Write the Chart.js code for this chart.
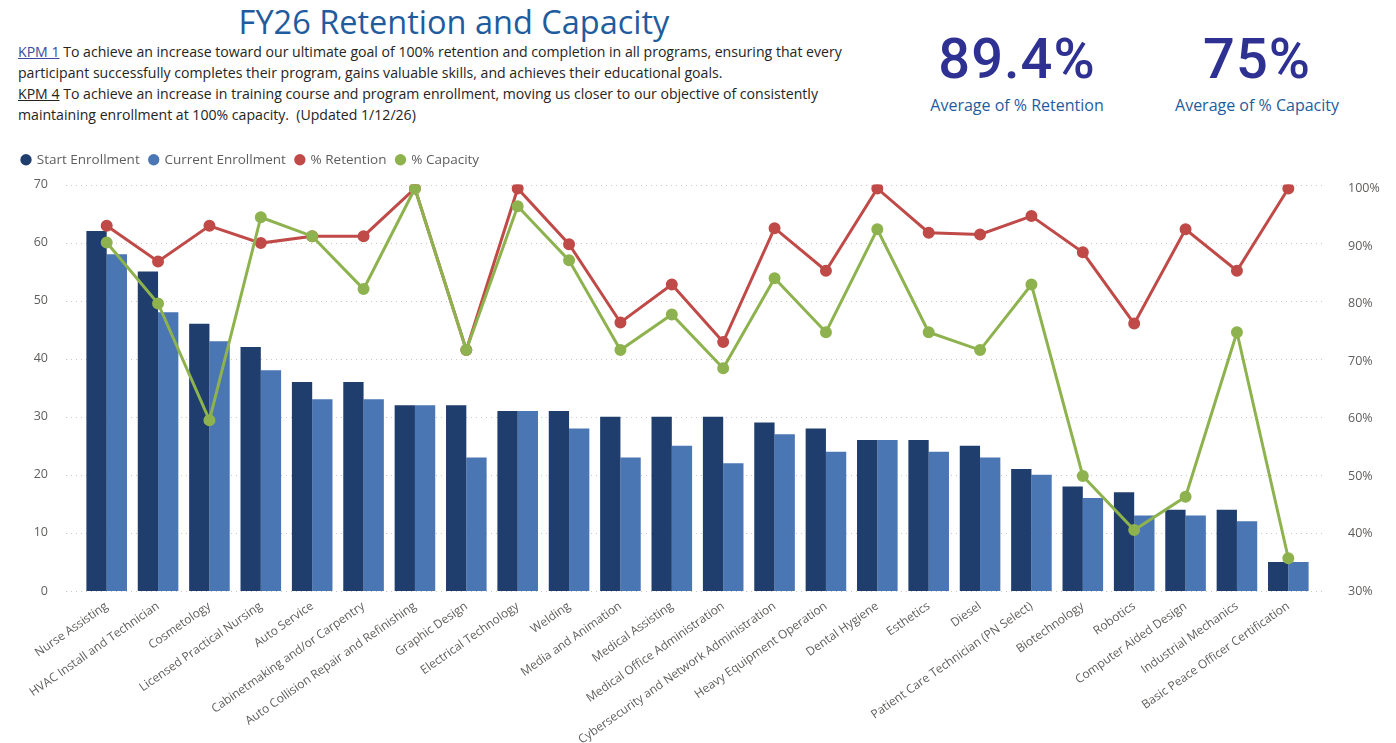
<!DOCTYPE html>
<html>
<head>
<meta charset="utf-8">
<script src="https://cdn.jsdelivr.net/npm/chart.js@4.4.1/dist/chart.umd.min.js"></script>
<style>
  html, body { margin: 0; padding: 0; background: #fff; overflow: hidden; }
  body { width: 1396px; height: 743px; position: relative; font-family: 'Open Sans', 'Noto Sans', sans-serif; }
  #title { position: absolute; left: 0; width: 908px; top: 0; text-align: center; font-size: 32.5px; color: #1f5c9e; line-height: 44px; }
  #kpm { position: absolute; left: 18px; top: 41px; font-size: 14.1px; line-height: 21px; color: #252423; white-space: nowrap; }
  #kpm .k1 { color: #3c4aa0; text-decoration: underline; }
  #kpm .k4 { text-decoration: underline; }
  .kpi { position: absolute; top: 25px; width: 240px; text-align: center; }
  .kpi .num { font-family: Roboto, sans-serif; font-weight: 500; font-size: 56px; line-height: 68px; color: #2e3192; letter-spacing: 1px; }
  .kpi .lbl { font-size: 16px; color: #1f5c9e; line-height: 20px; margin-top: 2px; }
  #wrap { position: absolute; left: 0; top: 140px; width: 1396px; height: 603px; }
</style>
</head>
<body>
<div id="title">FY26 Retention and Capacity</div>
<div id="kpm">
  <span class="k1">KPM 1</span> To achieve an increase toward our ultimate goal of 100% retention and completion in all programs, ensuring that every<br>
  participant successfully completes their program, gains valuable skills, and achieves their educational goals.<br>
  <span class="k4">KPM 4</span> To achieve an increase in training course and program enrollment, moving us closer to our objective of consistently<br>
  maintaining enrollment at 100% capacity.&nbsp; (Updated 1/12/26)
</div>
<div class="kpi" style="left:897px"><div class="num">89.4%</div><div class="lbl">Average of % Retention</div></div>
<div class="kpi" style="left:1137px"><div class="num">75%</div><div class="lbl">Average of % Capacity</div></div>
<div id="wrap"><canvas id="chart"></canvas></div>
<script>
// programas (eje X)
const programas = [
  'Nurse Assisting', 'HVAC Install and Technician', 'Cosmetology', 'Licensed Practical Nursing',
  'Auto Service', 'Cabinetmaking and/or Carpentry', 'Auto Collision Repair and Refinishing', 'Graphic Design',
  'Electrical Technology', 'Welding', 'Media and Animation', 'Medical Assisting',
  'Medical Office Administration', 'Cybersecurity and Network Administration', 'Heavy Equipment Operation', 'Dental Hygiene',
  'Esthetics', 'Diesel', 'Patient Care Technician (PN Select)', 'Biotechnology',
  'Robotics', 'Computer Aided Design', 'Industrial Mechanics', 'Basic Peace Officer Certification'
];

// inscripciones
const startEnrollment = [62, 55, 46, 42, 36, 36, 32, 32, 31, 31, 30, 30, 30, 29, 28, 26, 26, 25, 21, 18, 17, 14, 14, 5];
const currentEnrollment = [58, 48, 43, 38, 33, 33, 32, 23, 31, 28, 23, 25, 22, 27, 24, 26, 24, 23, 20, 16, 13, 13, 12, 5];

// porcentajes (eje derecho)
const retention = [0.935, 0.873, 0.935, 0.905, 0.917, 0.917, 1.0, 0.719, 1.0, 0.903, 0.767, 0.833,
                   0.733, 0.931, 0.857, 1.0, 0.923, 0.92, 0.952, 0.889, 0.765, 0.929, 0.857, 1.0];
const capacity = [0.906, 0.80, 0.597, 0.95, 0.917, 0.825, 1.0, 0.719, 0.969, 0.875, 0.719, 0.781,
                  0.6875, 0.844, 0.75, 0.929, 0.75, 0.719, 0.833, 0.50, 0.406, 0.464, 0.75, 0.357];

// ticks
const leftTicks = [0, 10, 20, 30, 40, 50, 60, 70];
const rightTicks = [0.3, 0.4, 0.5, 0.6, 0.7, 0.8, 0.9, 1.0];

const colores = {
  start: '#1f3e6d',
  current: '#4a76b4',
  retention: '#bf4a47',
  capacity: '#8db24e',
  texto: '#605e5c',
  grid: '#c8c8c8'
};

const fuente = "'Open Sans', 'Noto Sans', sans-serif";

// lineas de cuadricula punteadas, un poco mas anchas que el area
const gridPunteado = {
  id: 'gridPunteado',
  beforeDatasetsDraw(chart) {
    const { ctx, chartArea, scales } = chart;
    ctx.save();
    ctx.strokeStyle = colores.grid;
    ctx.lineWidth = 1;
    ctx.setLineDash([1, 4]);
    scales.y.ticks.forEach(t => {
      const y = Math.round(scales.y.getPixelForValue(t.value)) + 0.5;
      ctx.beginPath();
      ctx.moveTo(chartArea.left - 15, y);
      ctx.lineTo(chartArea.right + 10, y);
      ctx.stroke();
    });
    ctx.restore();
  }
};

// espacio extra debajo de la leyenda
const espacioLeyenda = {
  id: 'espacioLeyenda',
  beforeInit(chart) {
    const fitOriginal = chart.legend.fit;
    chart.legend.fit = function () {
      fitOriginal.bind(chart.legend)();
      this.height += 8;
    };
  }
};

const ctx = document.getElementById('chart').getContext('2d');
const chart = new Chart(ctx, {
  data: {
    labels: programas,
    datasets: [
      {
        type: 'bar', label: 'Start Enrollment', data: startEnrollment, yAxisID: 'y', order: 2,
        backgroundColor: colores.start, borderWidth: 0,
        categoryPercentage: 0.79, barPercentage: 1.0
      },
      {
        type: 'bar', label: 'Current Enrollment', data: currentEnrollment, yAxisID: 'y', order: 3,
        backgroundColor: colores.current, borderWidth: 0,
        categoryPercentage: 0.79, barPercentage: 1.0
      },
      {
        type: 'line', label: '% Retention', data: retention, yAxisID: 'y1', order: 1,
        borderColor: colores.retention, backgroundColor: colores.retention,
        borderWidth: 3, pointRadius: 4.5, pointHoverRadius: 5, tension: 0
      },
      {
        type: 'line', label: '% Capacity', data: capacity, yAxisID: 'y1', order: 0,
        borderColor: colores.capacity, backgroundColor: colores.capacity,
        borderWidth: 3, pointRadius: 4.5, pointHoverRadius: 5, tension: 0
      }
    ]
  },
  options: {
    responsive: true,
    maintainAspectRatio: false,
    animation: false,
    layout: { padding: { top: 3, left: 12, right: 0, bottom: 0 } },
    plugins: {
      legend: {
        position: 'top',
        align: 'start',
        labels: {
          usePointStyle: true,
          pointStyle: 'circle',
          boxWidth: 8,
          boxHeight: 8,
          padding: 10,
          color: colores.texto,
          font: { family: fuente, size: 13.5 },
          sort: (a, b) => a.datasetIndex - b.datasetIndex,
          // todos los circulos del mismo tamano, sin borde
          generateLabels(chart) {
            const items = Chart.defaults.plugins.legend.labels.generateLabels(chart);
            return items.map(it => Object.assign(it, { lineWidth: 0, pointStyle: 'circle' }));
          }
        }
      },
      tooltip: { enabled: true }
    },
    scales: {
      x: {
        offset: true,
        grid: { display: false },
        border: { display: false },
        ticks: {
          color: colores.texto,
          font: { family: fuente, size: 12 },
          maxRotation: 35, minRotation: 35,
          autoSkip: false,
          padding: 0
        },
        afterFit(s) { s.height = 152; }
      },
      y: {
        position: 'left',
        min: 0, max: 70,
        grid: { display: false },
        border: { display: false },
        ticks: {
          stepSize: 10,
          color: colores.texto,
          font: { family: fuente, size: 12.5 },
          padding: 25
        },
        afterBuildTicks(s) { s.ticks = leftTicks.map(v => ({ value: v })); },
        afterFit(s) { s.width = 69; }
      },
      y1: {
        position: 'right',
        min: 0.3, max: 1.0069,
        grid: { display: false },
        border: { display: false },
        ticks: {
          color: colores.texto,
          font: { family: fuente, size: 12.5 },
          padding: 26,
          callback: v => Math.round(v * 100) + '%'
        },
        afterBuildTicks(s) { s.ticks = rightTicks.map(v => ({ value: v })); },
        afterFit(s) { s.width = 82; }
      }
    }
  },
  plugins: [gridPunteado, espacioLeyenda]
});
</script>
</body>
</html>
